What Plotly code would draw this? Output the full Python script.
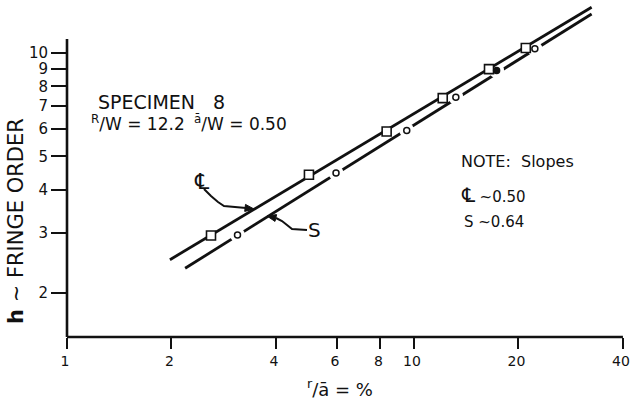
import math
import plotly.graph_objects as go

# Fringe order h against r/ā (%) for specimen 8: centre-line (℄) and surface (S) readings
cl_x = [2.60, 4.98, 8.34, 12.1, 16.45, 21.0]
cl_h = [2.94, 4.42, 5.91, 7.39, 8.98, 10.34]
s_x = [3.10, 5.96, 9.53, 13.2, 17.3, 22.3]
s_h = [2.95, 4.47, 5.95, 7.44, 8.89, 10.29]

# fitted straight lines (log-log), end points
cl_fit_x = [1.98, 32.5]
cl_fit_h = [2.50, 13.6]
s_fit_x = [2.19, 32.5]
s_fit_h = [2.36, 13.0]

x_ticks = [1, 2, 4, 6, 8, 10, 20, 40]
y_ticks = [2, 3, 4, 5, 6, 7, 8, 9, 10]

# page geometry (px)
W, H = 630, 404
L, R, T, B = 67, 2, 4, 67
PW, PH = W - L - R, H - T - B
X_DECADE = 347.0          # px per decade on the r/ā axis
Y_LOG_MIN, Y_LOG_MAX = 0.1727, 1.1429
AXIS_TOP = 39             # y-axis line stops here; the fit lines run on above it

INK = "#111111"
FONT = "DejaVu Sans"


def paper(px, py):
    return (px - L) / PW, (H - B - py) / PH


def ann(text, px, py, size, xanchor="left", angle=0):
    x, y = paper(px, py)
    return dict(text=text, x=x, y=y, xref="paper", yref="paper", showarrow=False,
                xanchor=xanchor, yanchor="middle", textangle=angle,
                font=dict(family=FONT, size=size, color=INK))


def polyline(points, width=2):
    pts = [paper(*p) for p in points]
    path = "M " + " L ".join(f"{x:.5f} {y:.5f}" for x, y in pts)
    return dict(type="path", path=path, xref="paper", yref="paper",
                line=dict(color=INK, width=width))


def arrowhead(points):
    pts = [paper(*p) for p in points]
    path = "M " + " L ".join(f"{x:.5f} {y:.5f}" for x, y in pts) + " Z"
    return dict(type="path", path=path, xref="paper", yref="paper",
                fillcolor=INK, line=dict(color=INK, width=1))


fig = go.Figure()

# S fit line, broken around its data points by white halos
fig.add_trace(go.Scatter(x=s_fit_x, y=s_fit_h, mode="lines",
                         line=dict(color=INK, width=2.8), hoverinfo="skip"))
fig.add_trace(go.Scatter(x=s_x, y=s_h, mode="markers", hoverinfo="skip",
                         marker=dict(symbol="circle", size=15, color="white",
                                     line=dict(width=0))))
# ℄ fit line
fig.add_trace(go.Scatter(x=cl_fit_x, y=cl_fit_h, mode="lines",
                         line=dict(color=INK, width=2.8), hoverinfo="skip"))
# ℄ points: open squares
fig.add_trace(go.Scatter(x=cl_x, y=cl_h, mode="markers",
                         marker=dict(symbol="square", size=9, color="white",
                                     line=dict(color=INK, width=1.6))))
# S points: small open circles
s_fill = ["white", "white", "white", "white", INK, "white"]
fig.add_trace(go.Scatter(x=s_x, y=s_h, mode="markers",
                         marker=dict(symbol="circle", size=6, color=s_fill,
                                     line=dict(color=INK, width=1.5))))

x_log_max = PW / X_DECADE
x_axis_end = math.log10(x_ticks[-1]) / x_log_max

shapes = [
    # axis lines: y stops short of the plot top, x stops at the last tick
    dict(type="line", xref="paper", yref="paper", x0=0, x1=0,
         y0=0, y1=paper(L, AXIS_TOP)[1], line=dict(color=INK, width=2.6)),
    dict(type="line", xref="paper", yref="paper", x0=0, x1=x_axis_end,
         y0=0, y1=0, line=dict(color=INK, width=2.6)),
    # ℄ leader
    polyline([(204, 189), (211, 196), (218, 202), (224, 206), (246, 208)]),
    arrowhead([(254, 209), (244.7, 211.4), (245.5, 204.4)]),
    # S leader
    polyline([(307, 230), (292, 229), (287, 225), (282, 221), (276, 218)]),
    arrowhead([(267, 216), (276.6, 214.6), (275.0, 221.4)]),
]

annotations = [
    ann("SPECIMEN\u00a0\u00a0\u00a08", 96, 102, 19),
    ann("<sup>R</sup>/W = 12.2", 89, 123, 17),
    ann("<sup>ā</sup>/W = 0.50", 192, 123, 17),
    ann("NOTE:  Slopes", 459, 161, 16),
    ann('<span style="font-size:20px">℄</span> ~0.50', 459, 195, 15),
    ann("S ~0.64", 462, 222, 15),
    ann("℄", 202, 182, 22, xanchor="center"),
    ann("S", 314, 230, 20, xanchor="center"),
    ann("<b>h</b> ~ FRINGE ORDER", 16, 221, 21, xanchor="center", angle=-90),
    ann("<sup>r</sup>/ā = %", 340, 388, 18, xanchor="center"),
]

fig.update_layout(
    width=W, height=H,
    margin=dict(l=L, r=R, t=T, b=B, pad=0, autoexpand=False),
    paper_bgcolor="white", plot_bgcolor="white",
    showlegend=False,
    shapes=shapes,
    annotations=annotations,
    xaxis=dict(type="log", range=[0, x_log_max], automargin=False,
               tickvals=x_ticks, ticktext=[str(v) for v in x_ticks],
               ticklabeloverflow="allow", ticklabelshift=-2,
               showgrid=False, zeroline=False, showline=False,
               ticks="outside", ticklen=11, tickwidth=2.4, tickcolor=INK,
               tickfont=dict(family=FONT, size=14, color=INK)),
    yaxis=dict(type="log", range=[Y_LOG_MIN, Y_LOG_MAX], automargin=False,
               tickvals=y_ticks, ticktext=[str(v) for v in y_ticks],
               ticklabeloverflow="allow",
               showgrid=False, zeroline=False, showline=False,
               ticks="outside", ticklen=15, tickwidth=2.4, tickcolor=INK,
               tickfont=dict(family=FONT, size=15, color=INK)),
)

fig.write_html("out.html")
